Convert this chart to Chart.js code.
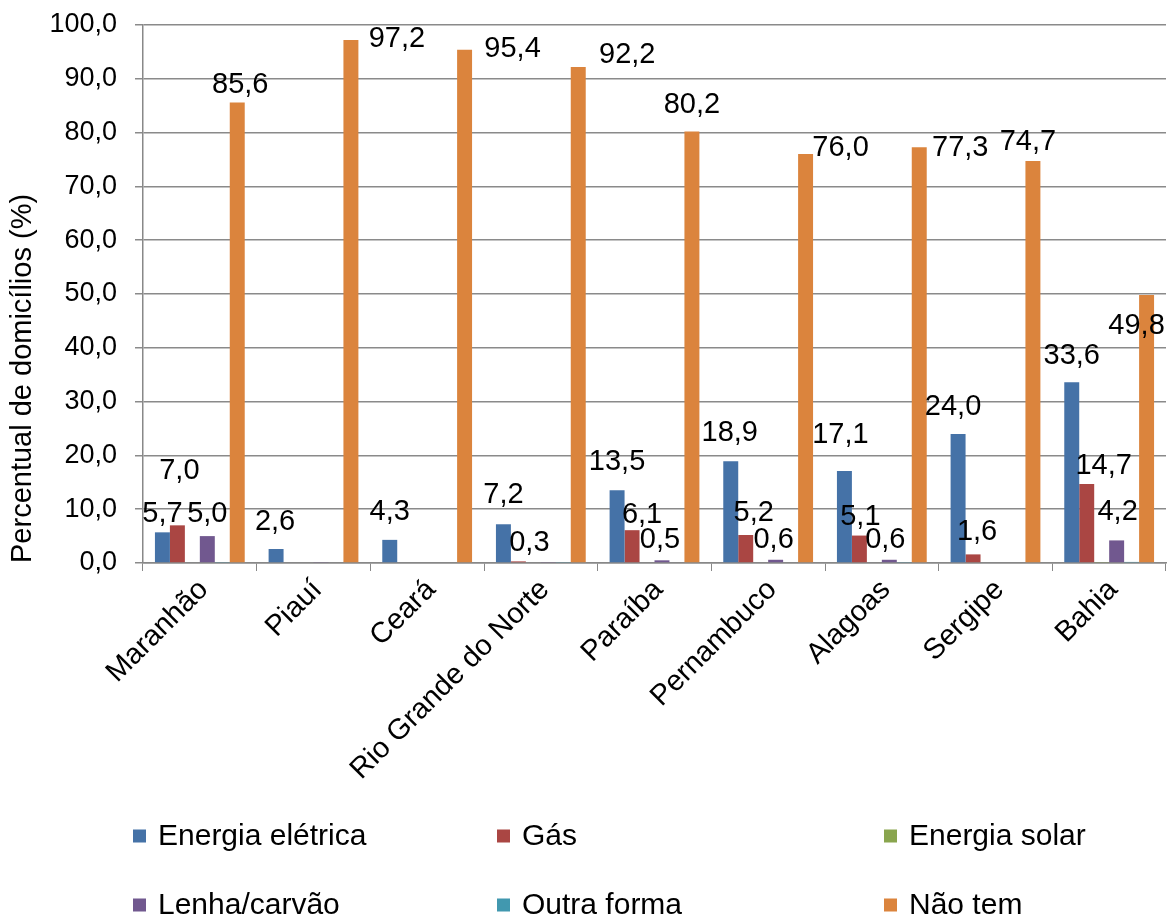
<!DOCTYPE html>
<html><head><meta charset="utf-8">
<script src="https://cdn.jsdelivr.net/npm/chart.js@4.4.1/dist/chart.umd.min.js"></script>
<style>html,body{margin:0;padding:0;background:#fff}#wrap{width:1173px;height:917px;position:relative}</style>
</head><body><div id="wrap"><canvas id="c"></canvas></div>
<script>
const categories = ['Maranhão','Piauí','Ceará','Rio Grande do Norte','Paraíba','Pernambuco','Alagoas','Sergipe','Bahia'];
const seriesNames = ['Energia elétrica','Gás','Energia solar','Lenha/carvão','Outra forma','Não tem'];
const energiaEletrica = [5.7, 2.6, 4.3, 7.2, 13.5, 18.9, 17.1, 24.0, 33.6];
const gas = [7.0, 0, 0, 0.3, 6.1, 5.2, 5.1, 1.6, 14.7];
const energiaSolar = [0, 0, 0, 0, 0, 0, 0, 0, 0.1];
const lenhaCarvao = [5.0, 0.1, 0, 0.1, 0.5, 0.6, 0.6, 0, 4.2];
const outraForma = [0.1, 0, 0, 0.1, 0, 0, 0.1, 0, 0.2];
const naoTem = [85.6, 97.2, 95.4, 92.2, 80.2, 76.0, 77.3, 74.7, 49.8];
const yTickValues = [0, 10, 20, 30, 40, 50, 60, 70, 80, 90, 100];

const seriesValues = [energiaEletrica, gas, energiaSolar, lenhaCarvao, outraForma, naoTem];
const seriesColors = ['#4572A7', '#AA4643', '#89A54E', '#71588F', '#4198AF', '#DB843D'];

// label nudges (px) relative to bar top centre, per dataset/category
const labelNudge = {
  0: [[0,-18],[-1,-27],[0,-28],[0,-29],[0,-28],[-1,-28],[-4,-36],[-5,-27],[0,-26]],
  1: [[2,-54],null,null,[11,-18],[10,-15],[8,-22],[1,-19],[4,-22],[17,-18]],
  3: [[0,-22],null,null,null,[-2,-20],[-2,-20],[-4,-20],null,[1,-28]],
  5: [[3,-17],[46,-1],[48,-1],[49,-12],[0,-27],[35,-6],[41,1],[-5,-19],[-10,31]]
};

const FONT = "'Liberation Sans', Arial, sans-serif";
const fmt = v => v.toFixed(1).replace('.', ',');

const labelPlugin = {
  id: 'valueLabels',
  afterDatasetsDraw(chart) {
    const ctx = chart.ctx;
    ctx.save();
    ctx.font = `29px ${FONT}`;
    ctx.fillStyle = '#000';
    ctx.textAlign = 'center';
    ctx.textBaseline = 'middle';
    chart.data.datasets.forEach((ds, d) => {
      const meta = chart.getDatasetMeta(d);
      ds.data.forEach((v, i) => {
        if (v < 0.25) return;
        const el = meta.data[i];
        const n = (labelNudge[d] && labelNudge[d][i]) || [0, -27];
        ctx.fillText(fmt(v), el.x + n[0], el.y + n[1]);
      });
    });
    ctx.restore();
  }
};

const legendPlugin = {
  id: 'gridLegend',
  afterDraw(chart) {
    const ctx = chart.ctx;
    const cols = [133, 497, 884];
    const rows = [chart.height - 81, chart.height - 12];
    ctx.save();
    ctx.font = `30px ${FONT}`;
    ctx.textBaseline = 'middle';
    ctx.textAlign = 'left';
    chart.data.datasets.forEach((ds, k) => {
      const x = cols[k % 3], y = rows[Math.floor(k / 3)];
      ctx.fillStyle = ds.backgroundColor;
      ctx.fillRect(x, y - 6.5, 13, 13);
      ctx.fillStyle = '#000';
      ctx.fillText(ds.label, x + 25, y + 1);
    });
    ctx.restore();
  }
};

new Chart(document.getElementById('c'), {
  type: 'bar',
  data: {
    labels: categories,
    datasets: seriesNames.map((name, k) => ({
      label: name,
      data: seriesValues[k],
      backgroundColor: seriesColors[k],
      borderWidth: 0,
      categoryPercentage: 0.79,
      barPercentage: 1.0
    }))
  },
  options: {
    responsive: true,
    maintainAspectRatio: false,
    animation: false,
    events: [],
    layout: { padding: { left: 0, top: 25, right: 7, bottom: 114 } },
    plugins: { legend: { display: false }, tooltip: { enabled: false } },
    scales: {
      x: {
        afterFit: s => { s.height = 240; },
        grid: { drawOnChartArea: false, drawTicks: true, tickLength: 8, color: '#888', offset: true },
        border: { color: '#888', width: 1.5 },
        ticks: {
          font: { family: FONT, size: 29 }, color: '#000',
          minRotation: 45, maxRotation: 45, autoSkip: false, padding: 2, labelOffset: 4
        }
      },
      y: {
        min: 0, max: 100,
        afterFit: s => { s.width = 143; s.paddingTop = 0; s.paddingBottom = 0; },
        afterBuildTicks: s => { s.ticks = yTickValues.map(v => ({ value: v })); },
        grid: { color: '#8a8a8a', lineWidth: 1.5, drawTicks: true, tickLength: 8 },
        border: { color: '#888', width: 1.5 },
        ticks: {
          font: { family: FONT, size: 27 }, color: '#000', padding: 18,
          callback: v => fmt(v)
        },
        title: {
          display: true, text: 'Percentual de domicílios (%)', align: 'start',
          font: { family: FONT, size: 29 }, color: '#000', padding: { top: 6, bottom: 4 }
        }
      }
    }
  },
  plugins: [labelPlugin, legendPlugin]
});
</script>
</body></html>
